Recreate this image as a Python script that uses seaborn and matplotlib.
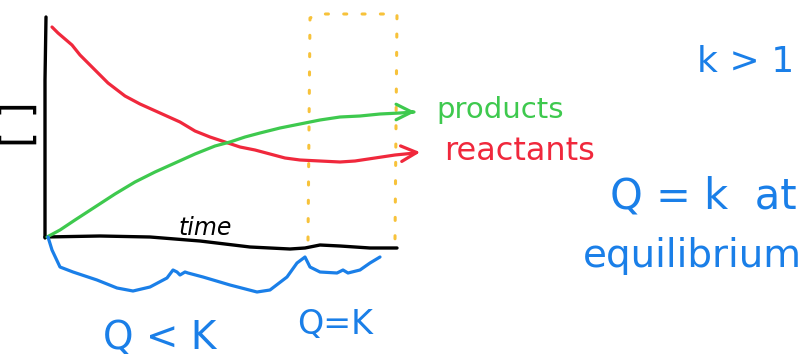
# Sketch: concentration vs time, approach to equilibrium (K > 1).

import pandas as pd
import matplotlib
matplotlib.use('Agg')
import matplotlib.pyplot as plt
import seaborn as sns

# Data (canvas units, y grows downward).

red_x = [52, 58, 72, 80, 95, 108, 125, 140, 160, 180, 195, 210, 225, 240, 255,
         270, 285, 300, 320, 340, 355, 375, 395, 415]
red_y = [27, 33, 45, 55, 70, 83, 96, 104, 113, 122, 131, 137, 142, 147, 150,
         154, 158, 160, 161, 162, 161, 158, 155, 153]

green_x = [47, 60, 75, 95, 115, 135, 155, 175, 195, 215, 230, 245, 260, 280,
           300, 320, 340, 360, 380, 400, 414]
green_y = [237, 230, 220, 207, 194, 182, 172, 163, 154, 146, 142, 137, 133,
           128, 124, 120, 117, 116, 114, 113, 112]

yaxis_x = [46, 45, 45, 45]
yaxis_y = [17, 80, 160, 238]
xaxis_x = [45, 100, 150, 200, 250, 290, 305, 320, 340, 370, 397]
xaxis_y = [237, 236, 237, 241, 247, 249, 248, 245, 246, 248, 248]

box_x = [308, 310, 318, 397, 395, 387]
box_y = [240, 18, 14, 14, 240, 244]

brace_x = [48, 52, 60, 73, 97, 117, 133, 150, 167, 173, 177, 180, 185, 188,
           203, 230, 257, 270, 287, 297, 305, 310, 320, 337, 343, 348, 360,
           370, 380]
brace_y = [237, 250, 267, 272, 280, 288, 291, 287, 278, 270, 272, 275, 272,
           273, 277, 285, 292, 290, 277, 263, 257, 267, 272, 273, 270, 273,
           270, 263, 257]

labels = ['products', 'reactants', 'k > 1', 'Q = k  at', 'equilibrium',
          'Q < K', 'Q=K', 'time', '[ ]']

red = '#f0283c'
green = '#3ec94e'
blue = '#1a7fe8'
yellow = '#f7c23a'

sns.set_style('white')
plt.rcParams['font.family'] = ['DejaVu Sans']

fig = plt.figure(figsize=(8.01, 3.64), dpi=100)
ax = fig.add_axes([0, 0, 1, 1])
ax.set_xlim(0, 801)
ax.set_ylim(364, 0)
ax.axis('off')

# Axes drawn by hand.
sns.lineplot(x=yaxis_x, y=yaxis_y, sort=False, estimator=None,
             color='black', lw=2.4, ax=ax)
sns.lineplot(x=xaxis_x, y=xaxis_y, sort=False, estimator=None,
             color='black', lw=2.4, ax=ax)

# Equilibrium window.
ax.plot(box_x, box_y, color=yellow, lw=2.2, ls=(0, (1, 5)),
        solid_capstyle='round', dash_capstyle='round')

# Curves.
curves = pd.DataFrame({
    'x': red_x + green_x,
    'y': red_y + green_y,
    'species': ['reactants'] * len(red_x) + ['products'] * len(green_x),
})
sns.lineplot(data=curves, x='x', y='y', hue='species', sort=False,
             estimator=None, palette={'reactants': red, 'products': green},
             lw=2.3, legend=False, ax=ax)

ax.annotate('', xy=(423, 152), xytext=(red_x[-1] - 5, red_y[-1]),
            arrowprops=dict(arrowstyle='->', color=red, lw=2.3,
                            mutation_scale=28))
ax.annotate('', xy=(418, 112), xytext=(green_x[-1] - 5, green_y[-1]),
            arrowprops=dict(arrowstyle='->', color=green, lw=2.3,
                            mutation_scale=28))

# Brace under the time axis.
sns.lineplot(x=brace_x, y=brace_y, sort=False, estimator=None,
             color=blue, lw=2.3, ax=ax)

# Text.
ax.text(500, 110, labels[0], color=green, fontsize=21, ha='center', va='center')
ax.text(520, 152, labels[1], color=red, fontsize=23, ha='center', va='center')
ax.text(746, 62, labels[2], color=blue, fontsize=26, ha='center', va='center')
ax.text(703, 197, labels[3], color=blue, fontsize=30, ha='center', va='center')
ax.text(692, 256, labels[4], color=blue, fontsize=28, ha='center', va='center')
ax.text(160, 338, labels[5], color=blue, fontsize=28, ha='center', va='center')
ax.text(335, 325, labels[6], color=blue, fontsize=24, ha='center', va='center')
ax.text(205, 228, labels[7], color='black', fontsize=17, ha='center',
        va='center', style='italic')
ax.text(20, 124, labels[8], color='black', fontsize=30, ha='center',
        va='center', rotation=90)

fig.savefig('out.png', dpi=100)
